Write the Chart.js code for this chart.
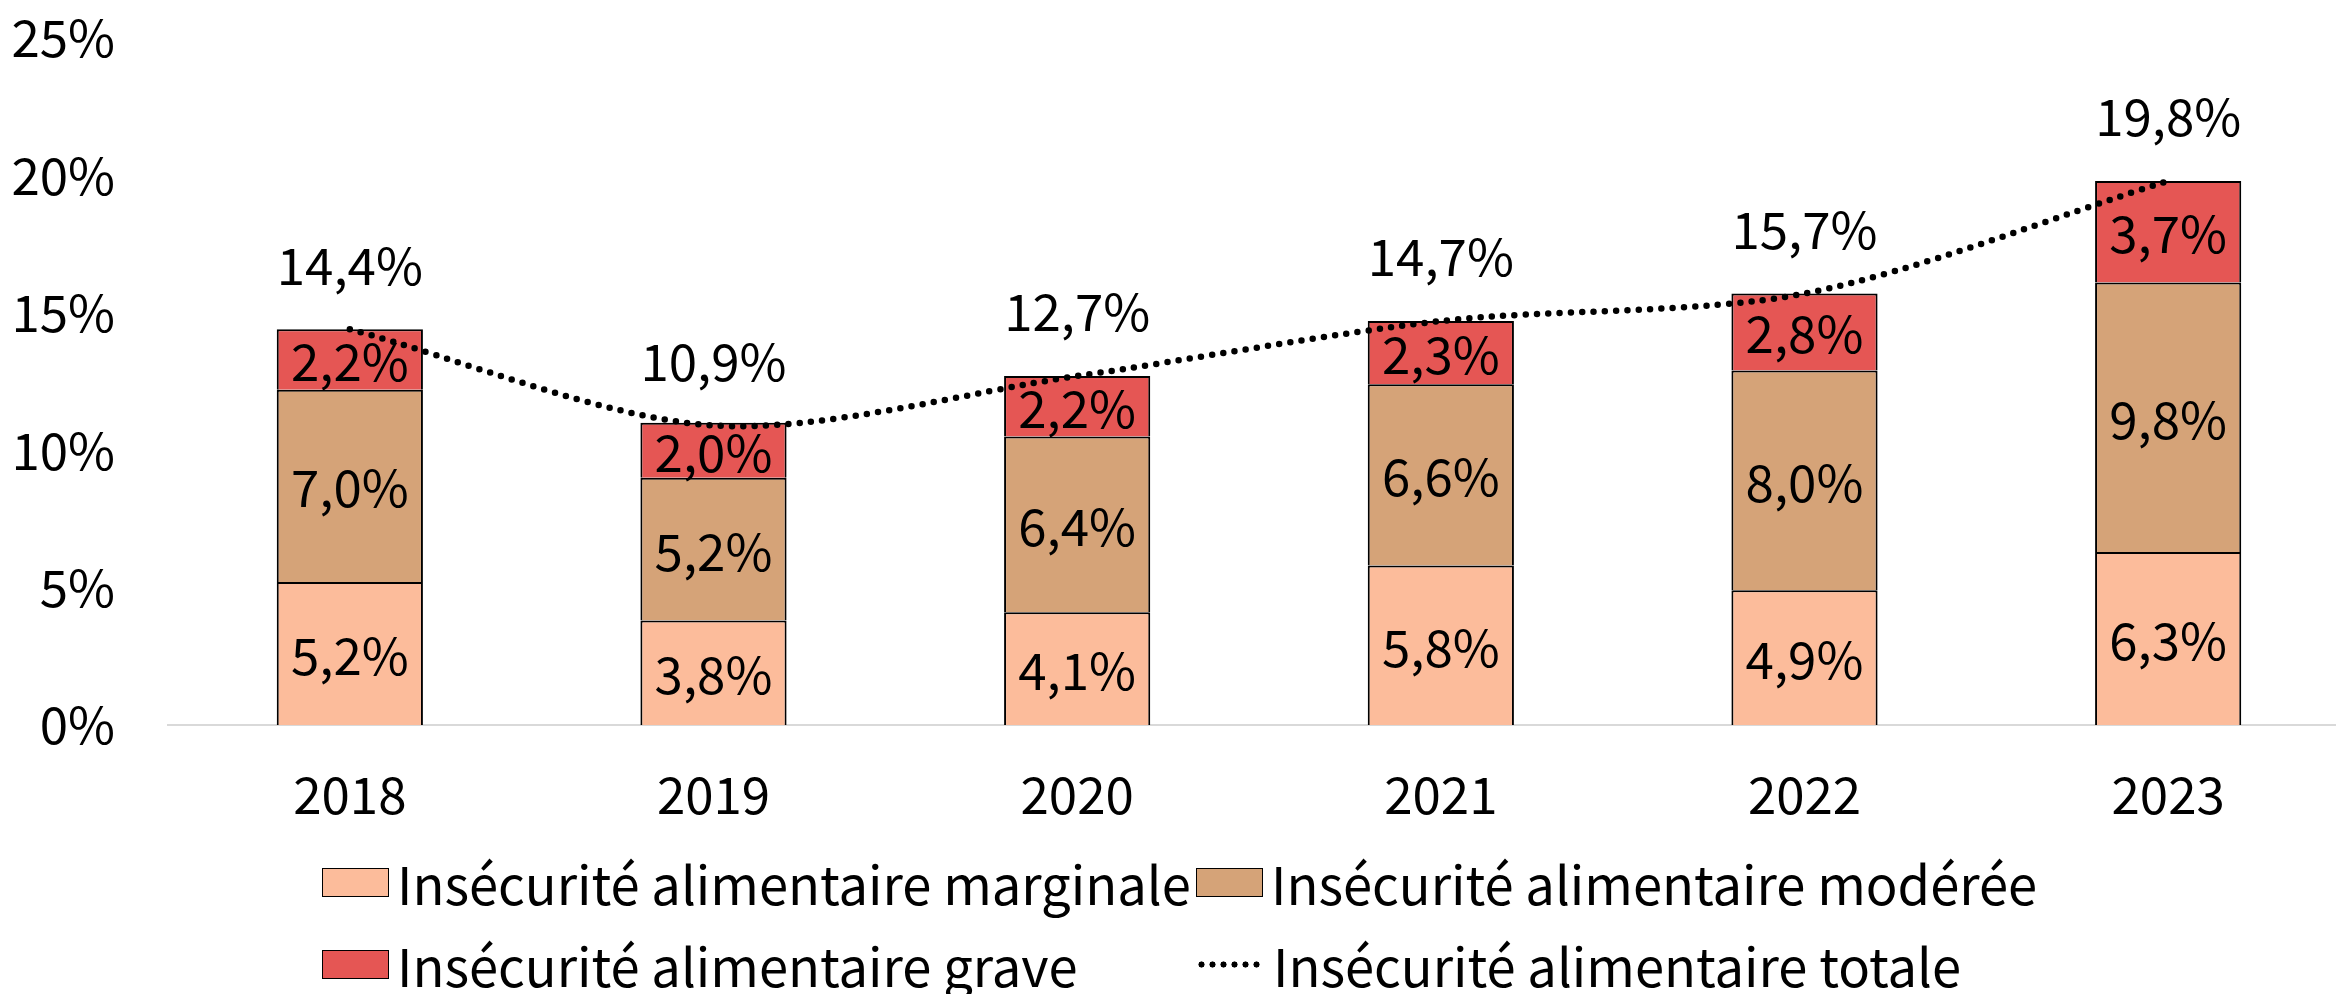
<!DOCTYPE html>
<html>
<head>
<meta charset="utf-8">
<script src="https://cdn.jsdelivr.net/npm/chart.js@4"></script>
<style>
  html, body { margin:0; padding:0; background:#fff; overflow:hidden; width:2336px; height:994px; }
  #wrap { position:absolute; left:0; top:0; width:2350px; height:850px; }
  #legend { position:absolute; left:322px; top:841px; display:grid; grid-template-columns:874px auto; grid-auto-rows:82px;
            font-family:"Noto Sans CJK JP", "Noto Sans", sans-serif; font-size:52.5px; color:#000; }
  .item { display:flex; align-items:center; white-space:nowrap; }
  .box { width:65px; height:27px; border:1.5px solid #000; margin-right:8px; flex:none; }
  .dots { width:68px; height:7px; margin-right:9px; flex:none;
          background-image:radial-gradient(circle, #000 2.8px, transparent 3.3px); background-size:11px 7px; background-repeat:repeat-x; }
</style>
</head>
<body>
<div id="wrap"><canvas id="chart"></canvas></div>
<div id="legend"></div>
<script>
// data
const years = ['2018', '2019', '2020', '2021', '2022', '2023'];
const marginale = [5.2, 3.8, 4.1, 5.8, 4.9, 6.3];
const moderee = [7.0, 5.2, 6.4, 6.6, 8.0, 9.8];
const grave = [2.2, 2.0, 2.2, 2.3, 2.8, 3.7];
const totale = [14.4, 10.9, 12.7, 14.7, 15.7, 19.8];
const yTicks = [0, 5, 10, 15, 20, 25];

const FONT = '"Noto Sans CJK JP", "Noto Sans", sans-serif';
const fmt = v => v.toFixed(1).replace('.', ',') + '%';

// draws the value labels inside bars and above the line
const valueLabels = {
  id: 'valueLabels',
  afterDatasetsDraw(chart){
    const ctx = chart.ctx;
    ctx.save();
    ctx.font = '51px ' + FONT;
    ctx.fillStyle = '#000';
    ctx.textAlign = 'center';
    ctx.textBaseline = 'middle';
    chart.data.datasets.forEach((ds, i) => {
      const meta = chart.getDatasetMeta(i);
      meta.data.forEach((el, j) => {
        const v = ds.data[j];
        if(ds.type === 'line'){
          ctx.fillText(fmt(v), el.x, el.y - 64);
        } else {
          ctx.fillText(fmt(v), el.x, (el.y + el.base) / 2 + 2);
        }
      });
    });
    ctx.restore();
  }
};

const bar = (label, data, color) => ({
  type:'bar', label, data, backgroundColor:color, borderColor:'#000', borderWidth:2,
  stack:'bars', order:1, barPercentage:0.402, categoryPercentage:1
});

const chart = new Chart(document.getElementById('chart'), {
  data:{
    labels: years,
    datasets:[
      bar('Insécurité alimentaire marginale', marginale, '#FCBC9B'),
      bar('Insécurité alimentaire modérée', moderee, '#D5A378'),
      bar('Insécurité alimentaire grave', grave, '#E55654'),
      { type:'line', label:'Insécurité alimentaire totale', data:totale, stack:'total', order:0,
        borderColor:'#000', borderWidth:6.5, borderDash:[0, 11.3], borderCapStyle:'round',
        pointRadius:0, tension:0.3, fill:false }
    ]
  },
  options:{
    responsive:true, maintainAspectRatio:false, animation:false,
    layout:{ padding:{ top:38, left:0, right:0, bottom:0 } },
    plugins:{ legend:{ display:false }, tooltip:{ enabled:false } },
    scales:{
      x:{
        stacked:true,
        grid:{ display:false, drawTicks:false },
        border:{ display:true, color:'#d9d9d9', width:2 },
        ticks:{ color:'#000', font:{ family:FONT, size:51 }, padding:39 },
        afterFit: s => { s.height = 125; s.paddingLeft = 0; s.paddingRight = 0; }
      },
      y:{
        stacked:true, min:0, max:25,
        afterBuildTicks: s => { s.ticks = yTicks.map(v => ({ value:v })); },
        grid:{ display:false, drawTicks:false },
        border:{ display:false },
        ticks:{ color:'#000', font:{ family:FONT, size:51 }, padding:53, callback: v => v + '%' },
        afterFit: s => { s.width = 168; s.paddingTop = 0; s.paddingBottom = 0; }
      }
    }
  },
  plugins:[valueLabels]
});

// html legend in a 2x2 grid
const legendEl = document.getElementById('legend');
chart.data.datasets.forEach(ds => {
  const item = document.createElement('div');
  item.className = 'item';
  const mark = document.createElement('span');
  if(ds.type === 'line'){
    mark.className = 'dots';
  } else {
    mark.className = 'box';
    mark.style.background = ds.backgroundColor;
  }
  const txt = document.createElement('span');
  txt.textContent = ds.label;
  item.appendChild(mark);
  item.appendChild(txt);
  legendEl.appendChild(item);
});
</script>
</body>
</html>
